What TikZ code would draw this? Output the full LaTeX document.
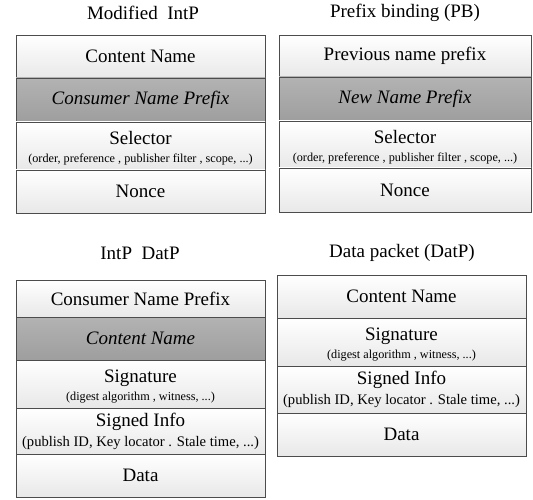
\documentclass[tikz,border=0pt]{standalone}
\usepackage{fontspec}
\setmainfont{Liberation Serif}
\begin{document}
\begin{tikzpicture}[x=1pt,y=-1pt,
  cell/.style={draw=black!70, line width=0.9pt, top color=white, bottom color=black!9, minimum width=#1, inner sep=0pt, align=center, font=\fontsize{19}{21}\selectfont},
  dark/.style={top color=black!30, bottom color=black!38},
  ttl/.style={font=\fontsize{19}{21}\selectfont, inner sep=0pt}]
\useasboundingbox (0,0) rectangle (533,500);
\newcommand{\smalltxt}[1]{{\fontsize{12.2}{13}\selectfont #1}}
\newcommand{\midtxt}[1]{{\fontsize{14.6}{16}\selectfont #1}}
\newcommand{\upstrut}{\rule{0pt}{18.5pt}}
% Box 1
\node[ttl] (t1) at (143,13) {Modified\ \ IntP};
\node[cell=249pt, minimum height=43pt] (a1) at (140.5,56.5) {Content Name};
\node[cell=249pt, dark, minimum height=44pt] (a2) at (140.5,100) {\itshape Consumer Name Prefix};
\node[cell=249pt, minimum height=48pt] (a3) at (140.5,146) {\upstrut Selector\\[-3pt]\smalltxt{(order, preference , publisher filter , scope, ...)}};
\node[cell=249pt, minimum height=43pt] (a4) at (140.5,191.5) {Nonce};
% Box 2
\node[ttl] (t2) at (405,13) {Prefix binding (PB)};
\node[cell=252pt, minimum height=42pt] (b1) at (405,56) {Previous name prefix};
\node[cell=252pt, dark, minimum height=44pt] (b2) at (405,99) {\itshape New Name Prefix};
\node[cell=252pt, minimum height=47pt] (b3) at (405,144.5) {\upstrut Selector\\[-3pt]\smalltxt{(order, preference , publisher filter , scope, ...)}};
\node[cell=252pt, minimum height=44pt] (b4) at (405,190) {Nonce};
% Box 3
\node[ttl] (t3) at (140,253) {IntP\ \ DatP};
\node[cell=249pt, minimum height=37pt] (c1) at (140.5,298.5) {Consumer Name Prefix};
\node[cell=249pt, dark, minimum height=43pt] (c2) at (140.5,338.5) {\itshape Content Name};
\node[cell=249pt, minimum height=48pt] (c3) at (140.5,384) {\upstrut Signature\\[-3pt]\smalltxt{(digest algorithm , witness, ...)}};
\node[cell=249pt, minimum height=46pt] (c4) at (140.5,431) {Signed Info\\[-1pt]\midtxt{(publish ID, Key locator . Stale time, ...)}};
\node[cell=249pt, minimum height=43pt] (c5) at (140.5,475.5) {Data};
% Box 4
\node[ttl] (t4) at (402,253) {Data packet (DatP)};
\node[cell=249pt, minimum height=43pt] (d1) at (401.5,296.5) {Content Name};
\node[cell=249pt, minimum height=48pt] (d2) at (401.5,342) {\upstrut Signature\\[-3pt]\smalltxt{(digest algorithm , witness, ...)}};
\node[cell=249pt, minimum height=47pt] (d3) at (401.5,389.5) {Signed Info\\[-1pt]\midtxt{(publish ID, Key locator . Stale time, ...)}};
\node[cell=249pt, minimum height=43pt] (d4) at (401.5,434.5) {Data};
\end{tikzpicture}
\end{document}
